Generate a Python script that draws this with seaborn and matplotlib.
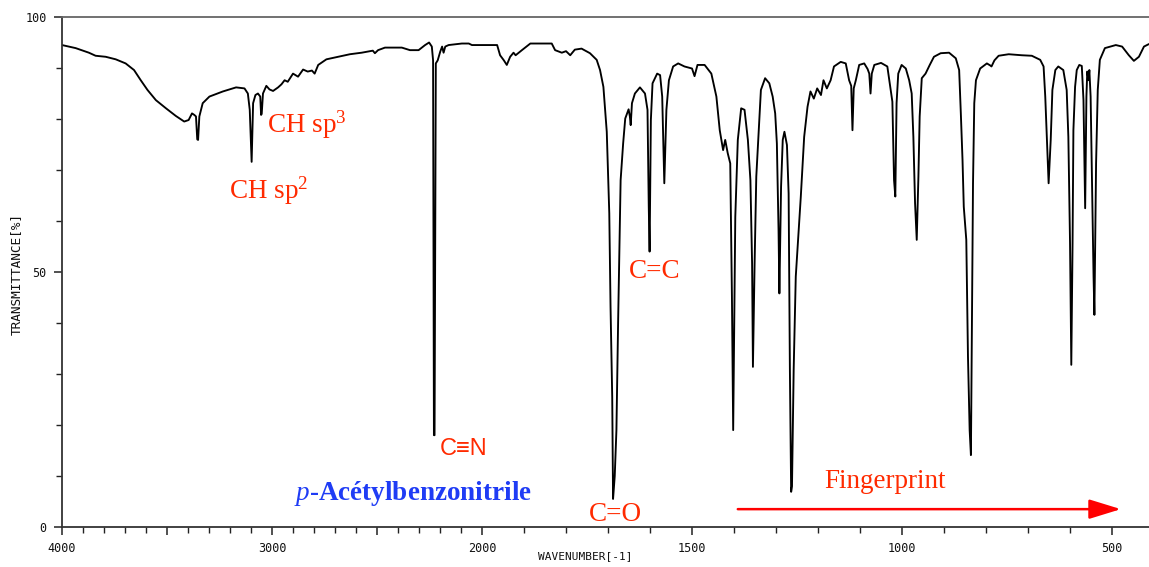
import numpy as np
import pandas as pd
import matplotlib
matplotlib.use("Agg")
import matplotlib.pyplot as plt
import seaborn as sns
from matplotlib.ticker import FixedLocator

# ---------------- data ----------------
wavenumber = [
    4000, 3935, 3872, 3840, 3792, 3744, 3697, 3657, 3625, 3593, 3553, 3505, 3458, 3418, 3397,
    3381, 3370, 3362, 3356, 3352, 3346, 3330, 3298, 3234, 3171, 3131, 3115, 3106, 3097, 3090,
    3079, 3067, 3056, 3052, 3049, 3043, 3027, 3012, 2995, 2971, 2955, 2940, 2925, 2900, 2876,
    2852, 2830, 2810, 2797, 2780, 2741, 2685, 2629, 2573, 2520, 2510, 2495, 2462, 2382, 2343,
    2302, 2271, 2252, 2239, 2233, 2229, 2226, 2220, 2211, 2199, 2190, 2183, 2175, 2159, 2096,
    2063, 2048, 2000, 1964, 1957, 1948, 1941, 1933, 1925, 1920, 1905, 1885, 1834, 1826, 1810,
    1800, 1790, 1779, 1763, 1743, 1727, 1719, 1711, 1703, 1697, 1694, 1690, 1688, 1684, 1680,
    1676, 1670, 1664, 1659, 1651, 1648, 1646, 1643, 1636, 1624, 1612, 1606, 1603, 1601, 1598,
    1594, 1583, 1576, 1571, 1566, 1561, 1555, 1545, 1533, 1518, 1500, 1494, 1487, 1470, 1454,
    1442, 1434, 1426, 1421, 1415, 1409, 1405, 1402, 1397, 1391, 1383, 1375, 1367, 1361, 1357,
    1355, 1351, 1347, 1341, 1336, 1326, 1316, 1308, 1302, 1298, 1294, 1292, 1288, 1284, 1280,
    1274, 1270, 1267, 1264, 1262, 1258, 1253, 1247, 1241, 1233, 1225, 1218, 1210, 1202, 1193,
    1187, 1179, 1170, 1162, 1146, 1134, 1126, 1121, 1118, 1115, 1110, 1102, 1090, 1082, 1078,
    1075, 1072, 1066, 1050, 1035, 1027, 1023, 1019, 1016, 1013, 1009, 1001, 991, 983, 977,
    973, 969, 965, 961, 958, 953, 944, 934, 924, 908, 888, 872, 864, 860, 856,
    853, 847, 843, 839, 836, 831, 828, 824, 814, 798, 790, 787, 780, 770, 746,
    715, 691, 671, 663, 659, 655, 651, 646, 642, 635, 628, 616, 608, 604, 600,
    597, 594, 592, 588, 584, 578, 572, 568, 564, 561, 559, 556, 554, 551, 547,
    544, 542, 538, 534, 529, 517, 491, 476, 460, 448, 436, 424, 412,
]
transmittance = [
    94.5, 93.9, 93.0, 92.4, 92.2, 91.7, 90.9, 89.6, 87.6, 85.7, 83.7, 82.1, 80.6, 79.5, 79.8,
    81.1, 80.8, 80.5, 76.0, 75.9, 80.5, 83.1, 84.4, 85.4, 86.2, 86.0, 85.0, 81.8, 71.6, 83.1,
    84.7, 85.0, 84.4, 80.8, 81.0, 85.0, 86.5, 85.8, 85.5, 86.2, 86.8, 87.6, 87.3, 88.9, 88.3,
    89.7, 89.3, 89.5, 88.9, 90.6, 91.7, 92.2, 92.7, 93.0, 93.4, 92.9, 93.5, 94.0, 94.0, 93.5,
    93.5, 94.5, 95.0, 94.2, 91.5, 18.0, 18.0, 90.9, 91.5, 93.2, 94.2, 93.0, 94.2, 94.5, 94.8,
    94.8, 94.5, 94.5, 94.5, 92.5, 91.5, 90.6, 92.2, 93.0, 92.5, 93.5, 94.8, 94.8, 93.5, 93.0,
    93.3, 92.5, 93.6, 93.8, 92.9, 91.6, 89.6, 86.3, 77.5, 61.5, 43.2, 25.5, 5.5, 10.0, 19.0,
    40.0, 68.0, 75.2, 80.1, 81.9, 80.5, 78.8, 83.1, 85.0, 86.2, 85.0, 81.8, 62.8, 54.0, 79.8,
    87.0, 88.9, 88.6, 84.4, 67.4, 81.8, 87.6, 90.3, 90.9, 90.3, 89.9, 88.4, 90.6, 90.6, 88.9,
    84.4, 77.8, 73.9, 75.9, 73.3, 71.3, 45.2, 19.0, 60.8, 75.9, 82.1, 81.8, 75.9, 68.0, 51.7,
    31.4, 51.7, 68.7, 77.8, 85.7, 88.0, 87.0, 84.4, 81.1, 75.2, 58.2, 45.8, 66.7, 75.9, 77.5,
    74.9, 65.4, 30.8, 6.9, 8.0, 30.8, 49.1, 56.9, 64.8, 76.5, 82.4, 85.4, 84.0, 86.0, 84.7,
    87.6, 86.0, 87.6, 90.3, 91.2, 90.9, 87.6, 86.5, 77.8, 86.0, 87.6, 90.6, 90.9, 89.8, 88.9,
    85.0, 88.9, 90.6, 91.0, 90.3, 85.7, 83.4, 68.0, 64.8, 83.1, 88.9, 90.6, 89.9, 87.6, 85.0,
    76.5, 63.5, 56.3, 68.7, 80.5, 88.0, 88.9, 90.6, 92.2, 92.9, 93.0, 91.9, 89.6, 81.1, 72.0,
    62.8, 56.3, 33.4, 19.0, 14.1, 67.4, 83.1, 87.6, 89.9, 90.9, 90.5, 90.3, 91.5, 92.4, 92.7,
    92.5, 92.4, 91.6, 90.3, 84.4, 75.9, 67.4, 75.9, 85.7, 89.6, 90.3, 89.6, 85.7, 76.5, 55.6,
    31.8, 55.6, 77.8, 86.3, 89.6, 90.6, 90.4, 83.7, 62.5, 84.4, 89.3, 87.6, 89.6, 84.4, 64.8,
    49.1, 41.6, 71.3, 85.7, 91.6, 93.9, 94.5, 94.2, 92.5, 91.4, 92.2, 94.2, 94.7,
]

x_major = [4000, 3500, 3000, 2500, 2000, 1500, 1000, 500]
x_major_labels = ["4000", "", "3000", "", "2000", "1500", "1000", "500"]
x_minor = list(range(4000, 499, -100))
y_major = [0, 50, 100]
y_major_labels = ["0", "50", "100"]
y_minor = list(range(0, 101, 10))

df = pd.DataFrame({"wavenumber": wavenumber, "transmittance": transmittance})

# ---------------- style ----------------
sns.set_theme(style="white")
plt.rcParams["font.family"] = ["DejaVu Sans Mono", "DejaVu Sans"]
plt.rcParams["mathtext.fontset"] = "custom"
plt.rcParams["mathtext.rm"] = "Liberation Serif"
plt.rcParams["mathtext.it"] = "Liberation Serif:italic"
plt.rcParams["mathtext.bf"] = "Liberation Serif:bold"

W, H = 1149, 567
fig = plt.figure(figsize=(W / 100, H / 100), dpi=100)
ax = fig.add_axes([62 / W, 1 - 527 / H, (W - 62) / W, (527 - 17) / H])

sns.lineplot(data=df, x="wavenumber", y="transmittance", ax=ax, color="black",
             linewidth=1.35, sort=False, estimator=None)


# split IR axis: 4000-2000 compressed, 2000-400 expanded by factor 2
def fwd(w):
    w = np.asarray(w, dtype=float)
    return np.where(w >= 2000, w, 2 * w - 2000)


def inv(u):
    u = np.asarray(u, dtype=float)
    return np.where(u >= 2000, u, (u + 2000) / 2)


ax.set_xscale("function", functions=(fwd, inv))
ax.set_xlim(4000, 412)
ax.set_ylim(0, 100)

ax.xaxis.set_major_locator(FixedLocator(x_major))
ax.set_xticklabels(x_major_labels)
ax.xaxis.set_minor_locator(FixedLocator(x_minor))
ax.yaxis.set_major_locator(FixedLocator(y_major))
ax.set_yticklabels(y_major_labels)
ax.yaxis.set_minor_locator(FixedLocator(y_minor))

ax.tick_params(axis="both", which="major", direction="out", length=6, width=1.1,
               color="#222222", labelsize=8.5, labelcolor="#111111", pad=5)
ax.tick_params(axis="both", which="minor", direction="out", length=4, width=1.0,
               color="#222222")
ax.tick_params(axis="x", which="both", bottom=True, top=False)
ax.tick_params(axis="y", which="both", left=True, right=False)

for side in ["left", "bottom", "top"]:
    ax.spines[side].set_visible(True)
    ax.spines[side].set_color("#333333")
    ax.spines[side].set_linewidth(1.3)
ax.spines["right"].set_visible(False)
ax.spines["top"].set_color("#666666")

ax.set_xlabel("WAVENUMBER[-1]", fontsize=8, color="#111111")
ax.set_ylabel("TRANSMITTANCE[%]", fontsize=9.2, color="#111111")
ax.xaxis.set_label_coords((585 - 62) / (W - 62), -0.048)
ax.yaxis.set_label_coords((23 - 62) / (W - 62), 0.497)

# ---------------- annotations ----------------
red = "#ff2a00"
serif = ["Liberation Serif", "DejaVu Serif"]
ax.text(3023, 77.3, r"CH sp$^3$", color=red, fontsize=19.5, family=serif, va="baseline")
ax.text(3204, 64.3, r"CH sp$^2$", color=red, fontsize=19.5, family=serif, va="baseline")
ax.text(2201, 14.1, "C\u2261N", color=red, fontsize=17,
        family=["Liberation Sans", "DejaVu Sans"], va="baseline")
ax.text(1651, 48.8, "C=C", color=red, fontsize=19.5, family=serif, va="baseline")
ax.text(1746, 1.2, "C=O", color=red, fontsize=19.5, family=serif, va="baseline")
ax.text(1186, 7.6, "Fingerprint", color=red, fontsize=19.5, family=serif, va="baseline")
ax.text(2894, 5.3, r"$\mathit{p}$-Acétylbenzonitrile", color="#1f3cf5", fontsize=19.5,
        family=serif, fontweight="bold", va="baseline")

ax.annotate("", xy=(479, 3.5), xytext=(1391, 3.5),
            arrowprops=dict(arrowstyle="-|>,head_length=1.3,head_width=0.4",
                            color="#ff0000", lw=1.8, shrinkA=0, shrinkB=0,
                            mutation_scale=15))

fig.savefig("out.png", dpi=100)
